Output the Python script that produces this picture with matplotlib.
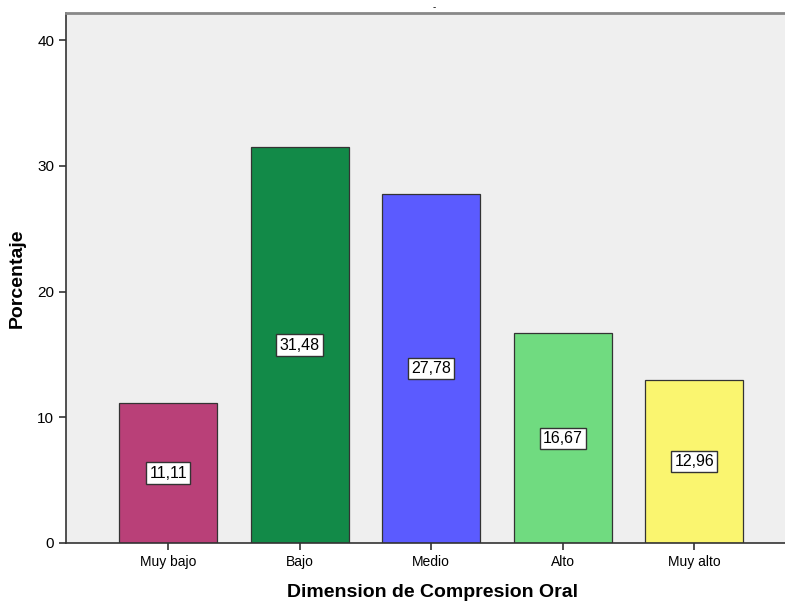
import matplotlib.pyplot as plt

plt.rcParams["font.family"] = ["Liberation Sans", "DejaVu Sans"]

categorias = ["Muy bajo", "Bajo", "Medio", "Alto", "Muy alto"]
porcentajes = [11.11, 31.48, 27.78, 16.67, 12.96]
etiquetas = ["11,11", "31,48", "27,78", "16,67", "12,96"]
colores = ["#B94078", "#128A48", "#5B5BFF", "#70DB80", "#FAF56F"]

fig = plt.figure(figsize=(7.85, 6.03), dpi=100)
ax = fig.add_axes([66/785, 60/603, 719/785, 530/603])
ax.set_facecolor("#EFEFEF")

x = range(len(categorias))
ax.bar(x, porcentajes, width=0.745, color=colores, edgecolor="#333333", linewidth=0.9, zorder=2)

for i, v in enumerate(porcentajes):
    ax.text(i, v / 2, etiquetas[i], ha="center", va="center", fontsize=11.5,
            bbox=dict(facecolor="white", edgecolor="#333333", boxstyle="square,pad=0.2", linewidth=1.0),
            zorder=3)

ax.set_xlim(-0.776, 4.69)
ax.set_ylim(0, 42.15)
ax.set_yticks([0, 10, 20, 30, 40])
ax.set_xticks(list(x))
ax.set_xticklabels(categorias, fontsize=10)
ax.tick_params(axis="y", labelsize=11, length=5, width=1.2, color="#333333")
ax.tick_params(axis="x", length=5, width=1.2, color="#333333")

ax.spines["left"].set_color("#333333")
ax.spines["left"].set_linewidth(1.2)
ax.spines["bottom"].set_color("#333333")
ax.spines["bottom"].set_linewidth(1.2)
ax.spines["top"].set_color("#888888")
ax.spines["top"].set_linewidth(2)
ax.spines["right"].set_visible(False)

ax.set_ylabel("Porcentaje", fontsize=14, fontweight="bold", labelpad=8)
ax.set_xlabel("Dimension de Compresion Oral", fontsize=14, fontweight="bold")
ax.xaxis.set_label_coords((432 - 66) / 719, -0.077)
fig.text(434/785, 1 - 7/603, "-", ha="center", va="center", fontsize=7)

fig.savefig("out.png", dpi=100)
